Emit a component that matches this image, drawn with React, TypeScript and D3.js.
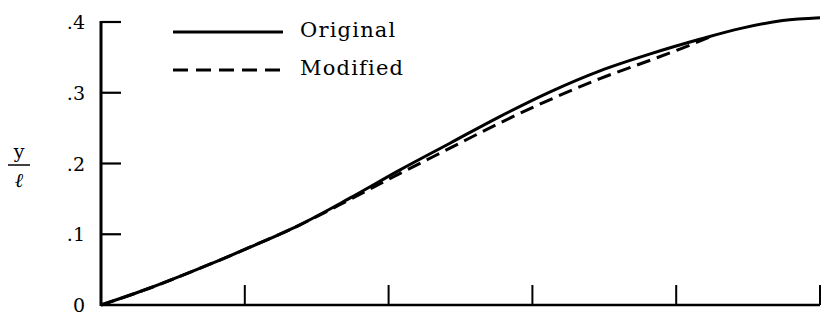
import React, { useRef, useEffect } from "react";
import * as d3 from "d3";

// x position along the span (axis has no labels), y/l values read off the plot
const xOriginal = [0, 0.34, 0.69, 1.04, 1.38, 1.73, 2.08, 2.43, 2.77, 3.12, 3.47, 3.82, 4.17, 4.45, 4.74, 5.0];
const yOriginal = [0, 0.024, 0.052, 0.082, 0.113, 0.151, 0.191, 0.229, 0.266, 0.301, 0.331, 0.355, 0.376, 0.391, 0.402, 0.406];

const xModified = [0, 0.34, 0.69, 1.04, 1.38, 1.73, 2.08, 2.43, 2.77, 3.12, 3.47, 3.82, 4.03, 4.27];
const yModified = [0, 0.024, 0.052, 0.082, 0.113, 0.149, 0.186, 0.222, 0.257, 0.29, 0.32, 0.346, 0.362, 0.382];

const yTicks = [0, 0.1, 0.2, 0.3, 0.4];
const yTickLabels = ["0", ".1", ".2", ".3", ".4"];
const xTicks = [1, 2, 3, 4, 5];

const legendNames = ["Original", "Modified"];

export default function App() {
  const ref = useRef<SVGSVGElement>(null);

  useEffect(() => {
    const width = 825;
    const height = 324;
    const font = "'DejaVu Serif', serif";

    const svg = d3.select(ref.current).attr("width", width).attr("height", height);
    svg.selectAll("*").remove();

    const x = d3.scaleLinear().domain([0, 5]).range([101, 820]);
    const y = d3.scaleLinear().domain([0, 0.4]).range([305, 22]);

    // axes
    svg.append("line")
      .attr("x1", x(0)).attr("x2", x(0))
      .attr("y1", y(0) + 1).attr("y2", y(0.4) - 1)
      .attr("stroke", "#000").attr("stroke-width", 3);
    svg.append("line")
      .attr("x1", x(0)).attr("x2", x(5))
      .attr("y1", y(0)).attr("y2", y(0))
      .attr("stroke", "#000").attr("stroke-width", 2.5);

    // y ticks pointing inward
    svg.selectAll(".ytick")
      .data(yTicks.filter((d) => d > 0))
      .enter()
      .append("line")
      .attr("x1", x(0)).attr("x2", x(0) + 20)
      .attr("y1", (d) => y(d)).attr("y2", (d) => y(d))
      .attr("stroke", "#000").attr("stroke-width", 2.2);

    svg.selectAll(".ylab")
      .data(yTicks)
      .enter()
      .append("text")
      .attr("x", 85)
      .attr("y", (d) => y(d) + 7)
      .attr("text-anchor", "end")
      .style("font", `19px ${font}`)
      .text((d, i) => yTickLabels[i]);

    // x ticks pointing up
    svg.selectAll(".xtick")
      .data(xTicks)
      .enter()
      .append("line")
      .attr("x1", (d) => x(d)).attr("x2", (d) => x(d))
      .attr("y1", y(0)).attr("y2", y(0) - 20)
      .attr("stroke", "#000").attr("stroke-width", 2);

    // y/l axis label
    svg.append("text")
      .attr("x", 19).attr("y", 158)
      .attr("text-anchor", "middle")
      .style("font", `19px ${font}`)
      .text("y");
    svg.append("line")
      .attr("x1", 8).attr("x2", 30)
      .attr("y1", 165).attr("y2", 165)
      .attr("stroke", "#000").attr("stroke-width", 1.5);
    svg.append("text")
      .attr("x", 19).attr("y", 187)
      .attr("text-anchor", "middle")
      .style("font", `italic 20px ${font}`)
      .text("ℓ");

    const line = d3
      .line<[number, number]>()
      .x((d) => x(d[0]))
      .y((d) => y(d[1]))
      .curve(d3.curveMonotoneX);

    const orig = xOriginal.map((v, i) => [v, yOriginal[i]] as [number, number]);
    const mod = xModified.map((v, i) => [v, yModified[i]] as [number, number]);

    svg.append("path")
      .datum(mod)
      .attr("fill", "none")
      .attr("stroke", "#000")
      .attr("stroke-width", 3)
      .attr("stroke-dasharray", "14,7")
      .attr("d", line);

    svg.append("path")
      .datum(orig)
      .attr("fill", "none")
      .attr("stroke", "#000")
      .attr("stroke-width", 3)
      .attr("d", line);

    // legend
    const legend = svg.append("g");
    legendNames.forEach((name, i) => {
      const ly = 32 + i * 38;
      legend.append("line")
        .attr("x1", 173).attr("x2", 283)
        .attr("y1", ly).attr("y2", ly)
        .attr("stroke", "#000").attr("stroke-width", 3)
        .attr("stroke-dasharray", i === 1 ? "15,8" : null);
      legend.append("text")
        .attr("x", 300).attr("y", ly + 5)
        .style("font", `21px ${font}`)
        .style("letter-spacing", "1.2px")
        .text(name);
    });
  }, []);

  return <svg ref={ref} style={{ position: "absolute", left: 0, top: 0 }} />;
}
